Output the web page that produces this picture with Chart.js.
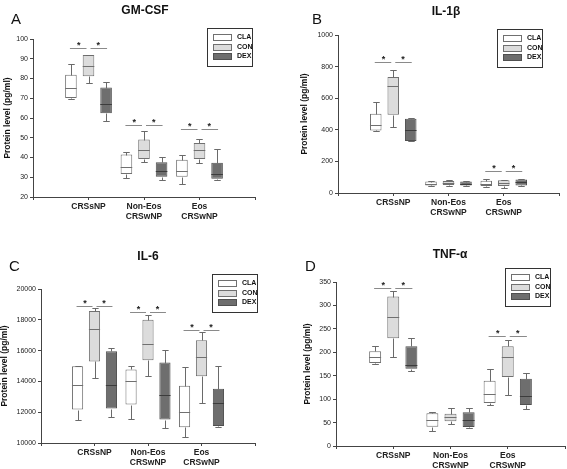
<!DOCTYPE html>
<html>
<head>
<meta charset="utf-8">
<script src="https://cdn.jsdelivr.net/npm/chart.js@4.4.1/dist/chart.umd.min.js"></script>
<style>
    body { margin: 0; background: #fff; width: 567px; height: 469px; position: relative; overflow: hidden;
           font-family: "Liberation Sans", Arial, sans-serif; color: #111; }
    canvas { position: absolute; }
    .ttl { position: absolute; font-weight: bold; font-size: 12px; line-height: 12px; transform: translateX(-50%); white-space: nowrap; }
    .let { position: absolute; font-size: 15px; line-height: 15px; }
</style>
</head>
<body>
<canvas id="chartA" width="283" height="235" style="left:0;top:0"></canvas>
<canvas id="chartB" width="284" height="235" style="left:283px;top:0"></canvas>
<canvas id="chartC" width="283" height="235" style="left:0;top:235px"></canvas>
<canvas id="chartD" width="284" height="235" style="left:283px;top:235px"></canvas>

<div class="ttl" style="left:145px;top:4px">GM-CSF</div>
<div class="let" style="left:11px;top:11px">A</div>
<div class="ttl" style="left:446px;top:5px">IL-1β</div>
<div class="let" style="left:312px;top:11px">B</div>
<div class="ttl" style="left:148px;top:250px">IL-6</div>
<div class="let" style="left:9px;top:258px">C</div>
<div class="ttl" style="left:450px;top:248px">TNF-α</div>
<div class="let" style="left:305px;top:258px">D</div>

<script>
// 그룹 / 시리즈
const groups = ['CRSsNP', ['Non-Eos', 'CRSwNP'], ['Eos', 'CRSwNP']];
const seriesNames = ['CLA', 'CON', 'DEX'];

// 각 값: [min, q1, median, q3, max]
const gmcsfCLA = [[69.4, 70.1, 75.3, 81.9, 87.5], [29.8, 31.7, 35.3, 41.5, 43.0], [26.8, 30.3, 33.0, 38.8, 41.5]];
const gmcsfCON = [[77.6, 81.2, 86.1, 91.9, 92.0], [37.8, 39.3, 43.7, 49.1, 53.3], [37.0, 39.2, 43.9, 47.3, 49.5]];
const gmcsfDEX = [[58.4, 62.4, 67.3, 75.4, 78.3], [28.5, 30.2, 33.0, 37.6, 40.5], [28.4, 29.2, 31.5, 37.3, 44.4]];
const gmcsfSig = [95.6, 56.5, 54.3];

const il1bCLA = [[390, 396, 432, 502, 574], [44, 48, 58, 72, 74], [38, 44, 59, 78, 91]];
const il1bCON = [[420, 496, 675, 734, 781], [46, 50, 62, 76, 80], [32, 44, 65, 80, 80]];
const il1bDEX = [[327, 329, 401, 470, 472], [44, 48, 56, 72, 74], [46, 48, 70, 86, 87]];
const il1bSig = [827, null, 137];

const il6CLA = [[11480, 12170, 13740, 14980, 15000], [11540, 12500, 14020, 14780, 15020], [10410, 11020, 12000, 13720, 14910]];
const il6CON = [[14240, 15300, 17430, 18570, 18740], [14330, 15370, 16430, 18000, 18330], [12570, 14330, 15590, 16670, 17220]];
const il6DEX = [[11700, 12240, 13740, 15960, 16200], [11000, 11520, 13130, 15220, 16020], [11070, 11110, 12590, 13520, 14980]];
const il6Sig = [18870, 18520, 17330];

const tnfCLA = [[176, 177, 189, 202, 213], [32, 41, 55.5, 70, 72], [87.5, 91.7, 111.7, 139.4, 163.6]];
const tnfCON = [[191, 230, 274.5, 319, 330], [47.6, 52.6, 62, 69, 82], [108, 147, 190.6, 213, 226]];
const tnfDEX = [[160, 165, 173.5, 213, 230], [37.7, 40.5, 56, 72, 82], [79, 87.5, 107.4, 143.7, 156.5]];
const tnfSig = [338, null, 234.7];

const FONT = '"Liberation Sans", Arial, sans-serif';
const axisColor = '#444';
const whiskerColor = '#6a6a6a';
const fills = ['#ffffff', '#dcdcdc', '#6e6e6e'];
const borders = ['#707070', '#707070', '#505050'];
const medians = ['#707070', '#707070', '#3c3c3c'];

// 박스플롯 수염, 중앙값
const boxPlugin = {
    id: 'boxes',
    afterDatasetsDraw(chart) {
        const ctx = chart.ctx;
        const y = chart.scales.y;
        chart.data.datasets.forEach((ds, di) => {
            const meta = chart.getDatasetMeta(di);
            meta.data.forEach((bar, i) => {
                const s = ds.stats[i];
                if (!s) return;
                const px = Math.round(bar.x) + 0.5;
                const half = bar.width / 2;
                const cap = bar.width * 0.28;
                const py = v => Math.round(y.getPixelForValue(v)) + 0.5;
                ctx.save();
                ctx.lineWidth = 1;
                ctx.strokeStyle = whiskerColor;
                ctx.beginPath();
                ctx.moveTo(px, py(s[3])); ctx.lineTo(px, py(s[4]));
                ctx.moveTo(px, py(s[1])); ctx.lineTo(px, py(s[0]));
                ctx.moveTo(px - cap, py(s[4])); ctx.lineTo(px + cap, py(s[4]));
                ctx.moveTo(px - cap, py(s[0])); ctx.lineTo(px + cap, py(s[0]));
                ctx.stroke();
                ctx.strokeStyle = ds.medianColor;
                ctx.beginPath();
                ctx.moveTo(bar.x - half, py(s[2])); ctx.lineTo(bar.x + half, py(s[2]));
                ctx.stroke();
                ctx.restore();
            });
        });
    }
};

// 유의성 표시 (*)
const sigPlugin = {
    id: 'sig',
    afterDatasetsDraw(chart, args, opts) {
        const ctx = chart.ctx;
        const y = chart.scales.y;
        const metas = [0, 1, 2].map(d => chart.getDatasetMeta(d));
        opts.levels.forEach((lv, g) => {
            if (lv == null) return;
            const xa = metas[0].data[g + 1].x, xb = metas[1].data[g + 1].x, xc = metas[2].data[g + 1].x;
            const ly = Math.round(y.getPixelForValue(lv)) + 0.5;
            ctx.save();
            ctx.strokeStyle = '#8a8a8a';
            ctx.lineWidth = 1;
            ctx.beginPath();
            ctx.moveTo(xa - 1, ly); ctx.lineTo(xb - 2, ly);
            ctx.moveTo(xb + 2, ly); ctx.lineTo(xc + 1, ly);
            ctx.stroke();
            ctx.fillStyle = '#222';
            ctx.font = 'bold 9px ' + FONT;
            ctx.textAlign = 'center';
            ctx.textBaseline = 'middle';
            ctx.fillText('*', (xa + xb) / 2 - 1, ly - 3);
            ctx.fillText('*', (xb + xc) / 2 + 1, ly - 3);
            ctx.restore();
        });
    }
};

// 범례 박스
const legendPlugin = {
    id: 'boxLegend',
    afterDraw(chart, args, opts) {
        const ctx = chart.ctx;
        ctx.save();
        ctx.strokeStyle = '#333';
        ctx.lineWidth = 1;
        ctx.strokeRect(opts.x + 0.5, opts.y + 0.5, 45, 38);
        chart.data.datasets.forEach((ds, i) => {
            const ry = opts.y + 9 + i * 9.5;
            ctx.fillStyle = ds.backgroundColor;
            ctx.fillRect(opts.x + 6, Math.round(ry - 3), 19, 7);
            ctx.strokeStyle = ds.borderColor;
            ctx.strokeRect(opts.x + 6.5, Math.round(ry - 3) + 0.5, 18, 6);
            ctx.fillStyle = '#111';
            ctx.font = 'bold 7px ' + FONT;
            ctx.textBaseline = 'middle';
            ctx.fillText(ds.label, opts.x + 30, ry + 0.5);
        });
        ctx.restore();
    }
};

function boxDataset(i, stats) {
    return {
        label: seriesNames[i],
        stats: [null, ...stats, null],
        data: [null, ...stats.map(s => [s[1], s[3]]), null],
        backgroundColor: fills[i],
        borderColor: borders[i],
        borderWidth: 1,
        borderSkipped: false,
        medianColor: medians[i],
        categoryPercentage: 0.95,
        barPercentage: 0.66
    };
}

function makePanel(id, series, o) {
    new Chart(document.getElementById(id), {
        type: 'bar',
        data: {
            labels: ['', ...groups, ''],
            datasets: series.map((s, i) => boxDataset(i, s))
        },
        options: {
            responsive: false,
            animation: false,
            layout: { padding: { left: o.padL, top: o.top, right: o.padR, bottom: 0 } },
            plugins: {
                legend: { display: false },
                tooltip: { enabled: false },
                sig: { levels: o.sig },
                boxLegend: { x: o.legX, y: o.legY }
            },
            scales: {
                x: {
                    offset: false,
                    grid: { offset: false, drawOnChartArea: false, tickLength: 3, color: axisColor },
                    border: { color: axisColor },
                    ticks: { font: { family: FONT, size: 8.5, weight: 'bold', lineHeight: 1.25 }, color: '#222', padding: 1, maxRotation: 0, autoSkip: false },
                    afterFit: s => { s.height = o.xH; }
                },
                y: {
                    min: o.min, max: o.max,
                    grid: { drawOnChartArea: false, tickLength: 3, color: axisColor },
                    border: { color: axisColor },
                    ticks: { stepSize: o.step, font: { family: FONT, size: 7 }, color: '#222', padding: 2, callback: v => String(v) },
                    title: { display: true, text: 'Protein level (pg/ml)', color: '#111',
                             font: { family: FONT, size: 8.5, weight: 'bold' }, padding: { top: o.tPad, bottom: 0 } },
                    afterFit: s => { s.width = o.yW; }
                }
            }
        },
        plugins: [boxPlugin, sigPlugin, legendPlugin]
    });
}

makePanel('chartA', [gmcsfCLA, gmcsfCON, gmcsfDEX],
    { min: 20, max: 100, step: 10, sig: gmcsfSig, padL: 0, yW: 33, tPad: 3, top: 39, padR: 28, xH: 38, legX: 207, legY: 28 });
makePanel('chartB', [il1bCLA, il1bCON, il1bDEX],
    { min: 0, max: 1000, step: 200, sig: il1bSig, padL: 14, yW: 41, tPad: 3, top: 35, padR: 8, xH: 42, legX: 214, legY: 29 });
makePanel('chartC', [il6CLA, il6CON, il6DEX],
    { min: 10000, max: 20000, step: 2000, sig: il6Sig, padL: 0, yW: 41, tPad: 0, top: 54, padR: 28, xH: 27, legX: 212, legY: 39 });
makePanel('chartD', [tnfCLA, tnfCON, tnfDEX],
    { min: 0, max: 350, step: 50, sig: tnfSig, padL: 17, yW: 36, tPad: 3, top: 47, padR: 2, xH: 24, legX: 222, legY: 33 });
</script>
</body>
</html>
